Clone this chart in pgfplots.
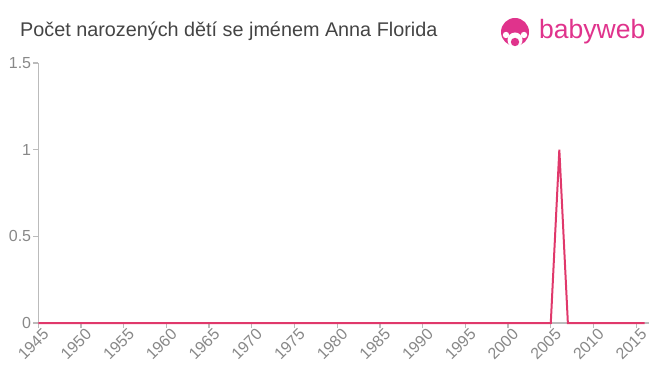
\documentclass[border=0pt]{standalone}
\usepackage{pgfplots}
\pgfplotsset{compat=1.18}
\usepackage{fontspec}
\setmainfont{Liberation Sans}
\definecolor{linecol}{HTML}{E0386B}
\definecolor{logocol}{HTML}{E0338C}
\definecolor{axcol}{HTML}{BBBBBB}
\definecolor{tickcol}{HTML}{888888}
\definecolor{titlecol}{HTML}{444444}
\begin{document}
\begin{tikzpicture}
\useasboundingbox (0pt,0pt) rectangle (660pt,375pt);
\node[anchor=base west, text=titlecol, font=\fontsize{19.8}{22}\selectfont, inner sep=0] at (20pt,338.3pt) {Počet narozených dětí se jménem Anna Florida};
% logo
\fill[logocol] (515pt,343pt) circle (14pt);
\fill[white] (515pt,335pt) circle (7.5pt);
\fill[white] (506pt,340pt) circle (3.2pt);
\fill[white] (524pt,340pt) circle (3.2pt);
\fill[logocol] (515pt,333pt) circle (4.2pt);
\node[anchor=base west, text=logocol, font=\fontsize{26.5}{28}\selectfont, inner sep=0] at (539pt,336pt) {babyweb};
\begin{axis}[
  at={(38.3pt,52pt)}, anchor=south west,
  width=610.7pt, height=260pt, scale only axis,
  xmin=1945, xmax=2016.5, ymin=0, ymax=1.5,
  axis x line=bottom, axis y line=left,
  axis line style={draw=axcol, line width=1.3pt, -},
  xtick={1945,1950,...,2015},
  ytick={0,0.5,1,1.5},
  yticklabels={0,0.5,1,1.5},
  xticklabel style={rotate=45, anchor=north east, inner sep=1pt, xshift=4pt, yshift=-1pt},
  yticklabel style={inner sep=2pt},
  x tick label style={/pgf/number format/1000 sep={}},
  tick style={draw=axcol, line width=1.3pt},
  tick align=outside, major tick length=5pt,
  ticklabel style={text=tickcol, font=\fontsize{16}{18}\selectfont},
  /pgf/number format/assume math mode=true,
  clip=false,
]
\addplot[linecol, line width=2pt, mark=none] coordinates {
(1945,0)(1946,0)(1947,0)(1948,0)(1949,0)(1950,0)(1951,0)(1952,0)(1953,0)(1954,0)
(1955,0)(1956,0)(1957,0)(1958,0)(1959,0)(1960,0)(1961,0)(1962,0)(1963,0)(1964,0)
(1965,0)(1966,0)(1967,0)(1968,0)(1969,0)(1970,0)(1971,0)(1972,0)(1973,0)(1974,0)
(1975,0)(1976,0)(1977,0)(1978,0)(1979,0)(1980,0)(1981,0)(1982,0)(1983,0)(1984,0)
(1985,0)(1986,0)(1987,0)(1988,0)(1989,0)(1990,0)(1991,0)(1992,0)(1993,0)(1994,0)
(1995,0)(1996,0)(1997,0)(1998,0)(1999,0)(2000,0)(2001,0)(2002,0)(2003,0)(2004,0)
(2005,0)(2006,1)(2007,0)(2008,0)(2009,0)(2010,0)(2011,0)(2012,0)(2013,0)(2014,0)
(2015,0)(2016,0)
};
\end{axis}
\end{tikzpicture}
\end{document}
